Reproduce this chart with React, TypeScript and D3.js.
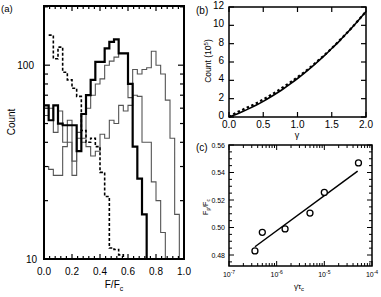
import React from "react";
import * as d3 from "d3";

// (a) histograms, bin width 1/30 of F/Fc
const binWidth = 1 / 30;
const thickCounts = [62, 52, 62, 50, 49, 49, 49, 36, 56, 70, 84, 104, 104, 122, 132, 136, 115, 115, 80, 38, 26, 17, 5];
const midCounts = [55, 60, 45, 58, 40, 52, 32, 45, 42, 60, 70, 80, 85, 100, 105, 110, 115, 115, 68, 70, 69, 40, 40, 25, 20, 13.7, 5];
const rightCounts = [30, 29, 27, 27, 38, 40, 27, 42, 40, 38, 34, 36, 44, 42, 52, 50, 62, 58, 62, 95, 90, 95, 97, 118, 100, 90, 66, 42, 17, 5];
const dashedCounts = [null, 143, 108, 124, 92, 84, 76, 69, 46, 40, 42, 38, 28, 21, 11.4, 11.2, 10.5, 5];
const aTickLabels = ["0.0", "0.2", "0.4", "0.6", "0.8", "1.0"];

// (b) count vs strain
const gammaVals = [0, 0.1, 0.2, 0.3, 0.4, 0.5, 0.6, 0.7, 0.8, 0.9, 1.0, 1.1, 1.2, 1.3, 1.4, 1.5, 1.6, 1.7, 1.8, 1.9, 2.0];
const countSolid = [0, 0.27, 0.59, 0.94, 1.31, 1.71, 2.15, 2.62, 3.11, 3.64, 4.2, 4.79, 5.41, 6.07, 6.75, 7.47, 8.2, 9.0, 9.79, 10.63, 11.5];
const countDashed = [0, 0.45, 0.8, 1.15, 1.5, 1.9, 2.35, 2.8, 3.3, 3.8, 4.35, 4.9, 5.5, 6.15, 6.8, 7.5, 8.25, 9.0, 9.8, 10.65, 11.5];
const bTicksX = ["0.0", "0.5", "1.0", "1.5", "2.0"];
const bTicksY = [0, 2, 4, 6, 8, 10, 12];

// (c) peak position vs shear rate
const rates = [3.5e-7, 5e-7, 1.5e-6, 5e-6, 1e-5, 5.2e-5];
const peaks = [0.483, 0.4965, 0.499, 0.5105, 0.5255, 0.547];
const fitRates = [3.5e-7, 5e-5];
const fitPeaks = [0.486, 0.541];
const cTicksY = ["0.48", "0.50", "0.52", "0.54", "0.56"];
const cDecades = [-7, -6, -5, -4];

const font = "Liberation Sans, Arial, sans-serif";

function stepPath(counts: (number | null)[], x: any, y: any) {
  const pts: [number, number][] = [];
  counts.forEach((c, k) => {
    if (c != null) pts.push([k * binWidth, c]);
  });
  const last = pts[pts.length - 1];
  pts.push([last[0] + binWidth, last[1]]);
  return d3.line<[number, number]>()
    .x(d => x(d[0]))
    .y(d => y(d[1]))
    .curve(d3.curveStepAfter)(pts) || "";
}

export default function App() {
  // panel (a)
  const ax = d3.scaleLinear().domain([0, 1]).range([44, 184]);
  const ay = d3.scaleLog().domain([10, 202]).range([259, 6]);
  const aMinorX = d3.range(0, 26).map(i => i * 0.04);
  const aMinorY = [20, 30, 40, 50, 60, 70, 80, 90, 200];

  // panel (b)
  const bx = d3.scaleLinear().domain([0, 2]).range([229, 366]);
  const by = d3.scaleLinear().domain([0, 12]).range([117, 7]);
  const bLine = (ys: number[]) =>
    d3.line<number>().x((d, i) => bx(gammaVals[i])).y(d => by(d)).curve(d3.curveMonotoneX)(ys) || "";

  // panel (c)
  const cx = d3.scaleLog().domain([1e-7, 1e-4]).range([229, 372]);
  const cy = d3.scaleLinear().domain([0.472, 0.56]).range([266, 145]);
  const cMinorX: number[] = [];
  [-7, -6, -5].forEach(e => {
    for (let m = 2; m <= 9; m++) cMinorX.push(m * Math.pow(10, e));
  });
  const cMinorY = d3.range(0, 18).map(i => 0.475 + i * 0.005);
  const fitLine = d3.line<number>().x((d, i) => cx(fitRates[i])).y(d => cy(d))(fitPeaks) || "";

  return (
    <svg width={381} height={297} style={{ position: "absolute", left: 0, top: 0, background: "#fff" }} fontFamily={font}>
      <defs>
        <clipPath id="clipA">
          <rect x={44} y={6} width={140} height={253} />
        </clipPath>
      </defs>

      {/* ---------- (a) ---------- */}
      <g clipPath="url(#clipA)" fill="none">
        <path d={stepPath(rightCounts, ax, ay)} stroke="#555" strokeWidth={1.1} />
        <path d={stepPath(midCounts, ax, ay)} stroke="#555" strokeWidth={1.1} />
        <path d={stepPath(thickCounts, ax, ay)} stroke="#000" strokeWidth={2.2} />
        <path d={stepPath(dashedCounts, ax, ay)} stroke="#000" strokeWidth={1.6} strokeDasharray="3,2" />
      </g>
      <g stroke="#000">
        {aMinorX.map((v, i) => {
          const len = i % 5 === 0 ? 5 : 3;
          return (
            <g key={"ax" + i}>
              <line x1={ax(v)} x2={ax(v)} y1={259} y2={259 - len} strokeWidth={1.2} />
              <line x1={ax(v)} x2={ax(v)} y1={6} y2={6 + len} strokeWidth={1.2} />
            </g>
          );
        })}
        {[10, 100].map(v => (
          <g key={"aym" + v}>
            <line x1={44} x2={50} y1={ay(v)} y2={ay(v)} strokeWidth={1.2} />
            <line x1={184} x2={178} y1={ay(v)} y2={ay(v)} strokeWidth={1.2} />
          </g>
        ))}
        {aMinorY.map(v => (
          <g key={"ay" + v}>
            <line x1={44} x2={48} y1={ay(v)} y2={ay(v)} strokeWidth={1.2} />
            <line x1={184} x2={180} y1={ay(v)} y2={ay(v)} strokeWidth={1.2} />
          </g>
        ))}
        <rect x={44} y={6} width={140} height={253} fill="none" strokeWidth={2} />
      </g>
      <g fontSize={10} fill="#000">
        {aTickLabels.map((t, i) => (
          <text key={t} x={ax(i * 0.2)} y={275} textAnchor="middle">{t}</text>
        ))}
        <text x={34} y={ay(100) + 3.5} textAnchor="end">100</text>
        <text x={37} y={ay(10) + 3.5} textAnchor="end">10</text>
        <text x={114} y={288} textAnchor="middle">F/F<tspan dy={2.5} fontSize={7}>c</tspan></text>
        <text transform="translate(15,122) rotate(-90)" textAnchor="middle">Count</text>
        <text x={1} y={12} fontSize={9.5}>(a)</text>
      </g>

      {/* ---------- (b) ---------- */}
      <g fill="none">
        <path d={bLine(countSolid)} stroke="#000" strokeWidth={1.6} />
        <path d={bLine(countDashed)} stroke="#000" strokeWidth={2.2} strokeDasharray="2.5,2.5" />
      </g>
      <g stroke="#000" strokeWidth={1.2}>
        {bTicksX.map((t, i) => (
          <g key={"bx" + t}>
            <line x1={bx(i * 0.5)} x2={bx(i * 0.5)} y1={117} y2={112} />
            <line x1={bx(i * 0.5)} x2={bx(i * 0.5)} y1={7} y2={12} />
          </g>
        ))}
        {bTicksY.map(v => (
          <g key={"by" + v}>
            <line x1={229} x2={234} y1={by(v)} y2={by(v)} />
            <line x1={366} x2={361} y1={by(v)} y2={by(v)} />
          </g>
        ))}
        <rect x={229} y={7} width={137} height={110} fill="none" strokeWidth={1.5} />
      </g>
      <g fontSize={10} fill="#000">
        {bTicksX.map((t, i) => (
          <text key={"bl" + t} x={bx(i * 0.5)} y={128} textAnchor="middle">{t}</text>
        ))}
        {bTicksY.map(v => (
          <text key={"byl" + v} x={224} y={by(v) + 2} textAnchor="end">{v}</text>
        ))}
        <text x={297} y={138} textAnchor="middle" fontSize={9}>γ</text>
        <text transform="translate(211,61) rotate(-90)" textAnchor="middle" fontSize={8.5}>
          Count (10<tspan dy={-3} fontSize={6}>5</tspan><tspan dy={3}>)</tspan>
        </text>
        <text x={196} y={14} fontSize={10}>(b)</text>
      </g>

      {/* ---------- (c) ---------- */}
      <path d={fitLine} fill="none" stroke="#000" strokeWidth={1.5} />
      {rates.map((r, i) => (
        <circle key={"pt" + i} cx={cx(r)} cy={cy(peaks[i])} r={3} fill="#fff" stroke="#000" strokeWidth={1.3} />
      ))}
      <g stroke="#000" strokeWidth={1}>
        {cDecades.map(e => (
          <g key={"cxm" + e}>
            <line x1={cx(Math.pow(10, e))} x2={cx(Math.pow(10, e))} y1={266} y2={261} />
            <line x1={cx(Math.pow(10, e))} x2={cx(Math.pow(10, e))} y1={145} y2={150} />
          </g>
        ))}
        {cMinorX.map((v, i) => (
          <g key={"cx" + i}>
            <line x1={cx(v)} x2={cx(v)} y1={266} y2={263} />
            <line x1={cx(v)} x2={cx(v)} y1={145} y2={148} />
          </g>
        ))}
        {cMinorY.map((v, i) => {
          const len = i % 4 === 1 ? 5 : 3;
          return (
            <g key={"cy" + i}>
              <line x1={229} x2={229 + len} y1={cy(v)} y2={cy(v)} />
              <line x1={372} x2={372 - len} y1={cy(v)} y2={cy(v)} />
            </g>
          );
        })}
        <rect x={229} y={145} width={143} height={121} fill="none" strokeWidth={1.5} />
      </g>
      <g fontSize={7} fill="#000">
        {cTicksY.map(t => (
          <text key={"cyl" + t} x={225} y={cy(+t) + 2.5} textAnchor="end">{t}</text>
        ))}
        {cDecades.map(e => (
          <text key={"cxl" + e} x={cx(Math.pow(10, e))} y={277} textAnchor="middle">
            10<tspan dy={-3} fontSize={5}>{e}</tspan>
          </text>
        ))}
        <text x={299} y={289} textAnchor="middle" fontSize={8}>
          γ̇τ<tspan dy={2} fontSize={6}>c</tspan>
        </text>
        <text transform="translate(208,207) rotate(-90)" textAnchor="middle" fontSize={7}>
          F<tspan dy={2} fontSize={5}>p</tspan><tspan dy={-2}>/F</tspan><tspan dy={2} fontSize={5}>c</tspan>
        </text>
        <text x={196} y={151} fontSize={10}>(c)</text>
      </g>
    </svg>
  );
}
